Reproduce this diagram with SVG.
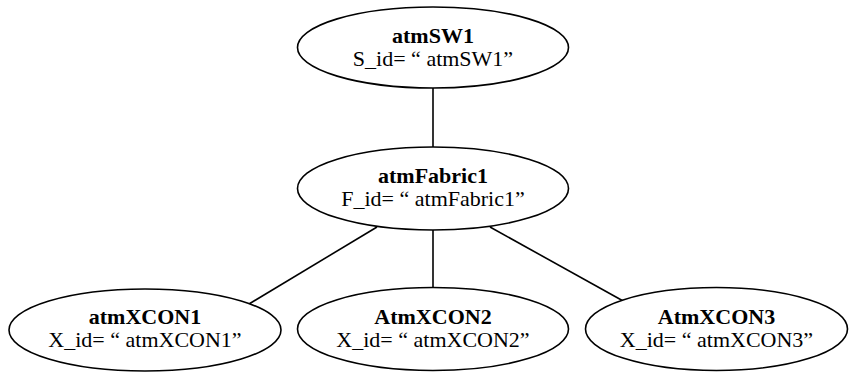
<svg xmlns="http://www.w3.org/2000/svg" width="849" height="374" viewBox="0 0 849 374">
  <style>
    .node ellipse { fill: #ffffff; stroke: #000000; stroke-width: 1.6; }
    .title { font-family: "Liberation Serif", "Times New Roman", serif; font-size: 22px; font-weight: bold; text-anchor: middle; fill: #000; }
    .label { font-family: "Liberation Serif", "Times New Roman", serif; font-size: 22px; text-anchor: middle; fill: #000; }
    .edges line { stroke: #000000; stroke-width: 1.6; }
  </style>
  <rect width="849" height="374" fill="#ffffff"/>

  <g id="connectors" class="edges">
    <line x1="433" y1="88" x2="433" y2="147"/>
    <line x1="377" y1="227" x2="249" y2="304"/>
    <line x1="433" y1="230" x2="433" y2="287"/>
    <line x1="490" y1="227" x2="625" y2="302"/>
  </g>

  <g id="atmSW1" class="node">
    <ellipse cx="433" cy="47.5" rx="135.5" ry="40.5"/>
    <text class="title" x="433" y="43">atmSW1</text>
    <text class="label" x="433" y="66">S_id= “ atmSW1”</text>
  </g>

  <g id="atmFabric1" class="node">
    <ellipse cx="433" cy="188.5" rx="135.5" ry="41.5"/>
    <text class="title" x="433" y="183">atmFabric1</text>
    <text class="label" x="433" y="206">F_id= “ atmFabric1”</text>
  </g>

  <g id="atmXCON1" class="node">
    <ellipse cx="145" cy="330" rx="136" ry="41"/>
    <text class="title" x="145" y="324">atmXCON1</text>
    <text class="label" x="145" y="347">X_id= “ atmXCON1”</text>
  </g>

  <g id="AtmXCON2" class="node">
    <ellipse cx="433" cy="329" rx="135.5" ry="41.5"/>
    <text class="title" x="433" y="324">AtmXCON2</text>
    <text class="label" x="433" y="347">X_id= “ atmXCON2”</text>
  </g>

  <g id="AtmXCON3" class="node">
    <ellipse cx="716.5" cy="329" rx="131" ry="41.5"/>
    <text class="title" x="716.5" y="324">AtmXCON3</text>
    <text class="label" x="716.5" y="347">X_id= “ atmXCON3”</text>
  </g>
</svg>
